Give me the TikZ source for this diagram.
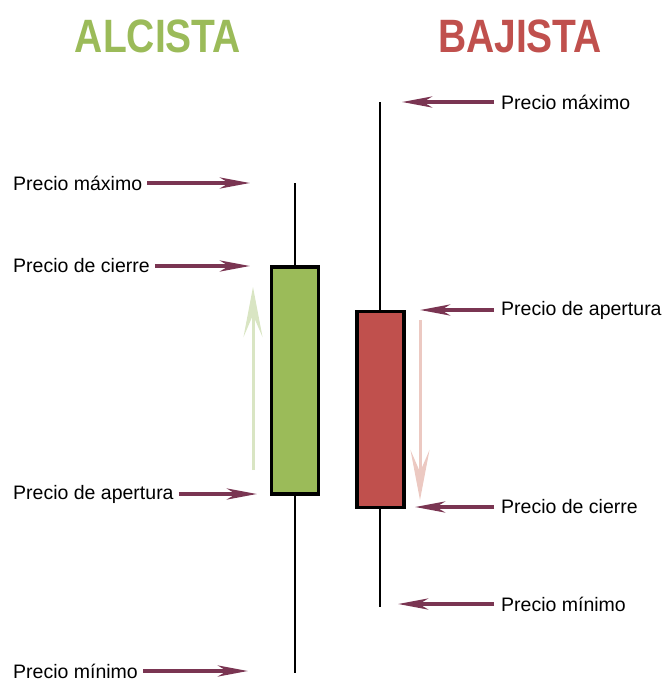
\documentclass[tikz,border=0pt]{standalone}
\usepackage{fontspec}
\setmainfont{Liberation Sans}
\usetikzlibrary{arrows.meta}
\definecolor{verde}{HTML}{9BBB59}
\definecolor{rojo}{HTML}{C0504D}
\definecolor{granate}{HTML}{7A3552}
\definecolor{verdeclaro}{HTML}{D9E5C3}
\definecolor{rojoclaro}{HTML}{ECC9C2}
\begin{document}
\begin{tikzpicture}[x=1pt,y=-1pt,line cap=butt,font=\fontsize{19.5}{24}\selectfont,
	etiqueta/.style={inner sep=0pt,anchor=west},
	titulo/.style={inner sep=0pt,font=\fontsize{39}{40}\selectfont\bfseries},
	cuerpo/.style={draw=black,line width=3.5pt,minimum width=47pt,inner sep=0pt},
	mecha/.style={line width=2pt},
	flecha/.style={draw=granate,line width=4pt,-{Stealth[length=30pt,width=11pt,inset=9pt]}},
	guia/.style={line width=3pt,-{Stealth[length=50pt,width=19pt,inset=22pt]}}]
		\useasboundingbox (0,0) rectangle (665,681);
		\node[titulo,text=verde] (alcista) at (158,36) {\scalebox{1}[1.2]{ALCISTA}};
		\node[titulo,text=rojo] (bajista) at (520,36) {\scalebox{1}[1.2]{BAJISTA}};
		\coordinate (altoA) at (295,183);
		\coordinate (bajoA) at (295,673);
		\coordinate (altoB) at (380,102);
		\coordinate (bajoB) at (380,607);
		\draw[mecha] (altoA)--(bajoA);
		\draw[mecha] (altoB)--(bajoB);
		\node[cuerpo,fill=verde,minimum height=227pt] (cuerpoA) at (295,380.5) {};
		\node[cuerpo,fill=rojo,minimum height=196pt] (cuerpoB) at (380.5,409.5) {};
		\coordinate (subeA) at (253,470);
		\coordinate (subeB) at (253,287);
		\coordinate (bajaA) at (420,320);
		\coordinate (bajaB) at (420,500);
		\draw[guia,verdeclaro] (subeA)--(subeB);
		\draw[guia,rojoclaro] (bajaA)--(bajaB);
		\foreach \nm/\y/\tip/\txt in {a1/183/250/Precio máximo,a2/266/250/Precio de cierre,a3/494/257/Precio de apertura,a4/671/248/Precio mínimo}{
			\node[etiqueta] (\nm) at (13,\y) {\txt};
			\coordinate (\nm p) at (\tip,\y);
			\draw[flecha] ([xshift=5pt]\nm.east)--(\nm p);
		}
		\foreach \nm/\y/\tip/\txt in {b1/102/402/Precio máximo,b2/310/420/Precio de apertura,b3/507/415/Precio de cierre,b4/604/398/Precio mínimo}{
			\node[etiqueta] (\nm) at (501,\y) {\txt};
			\coordinate (\nm p) at (\tip,\y);
			\draw[flecha] ([xshift=-7pt]\nm.west)--(\nm p);
		}
\end{tikzpicture}
\end{document}
